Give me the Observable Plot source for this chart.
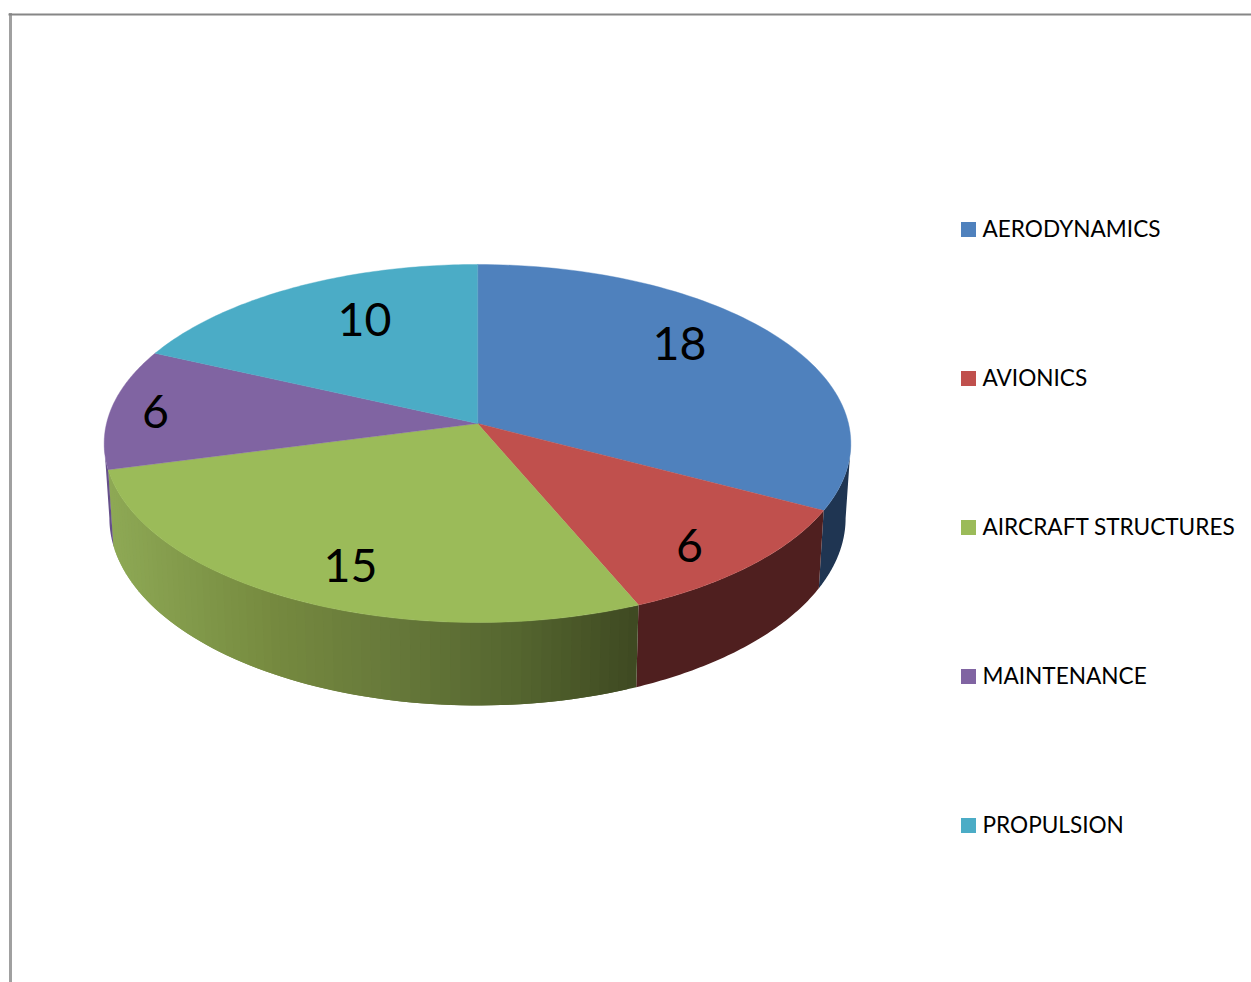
<!DOCTYPE html>
<html>
<head>
<meta charset="utf-8">
<script src="https://cdn.jsdelivr.net/npm/d3@7"></script>
<script src="https://cdn.jsdelivr.net/npm/@observablehq/plot@0.6"></script>
<style>
html,body{margin:0;padding:0;background:#fff;overflow:hidden}
svg{display:block}
</style>
</head>
<body>
<div id="chart"></div>
<script>
// ---- Data ----
const categories = ["AERODYNAMICS", "AVIONICS", "AIRCRAFT STRUCTURES", "MAINTENANCE", "PROPULSION"];
const values = [18, 6, 15, 6, 10];

// ---- Styles ----
const topColors = ["#4f81bd", "#c0504d", "#9bbb59", "#8064a2", "#4bacc6"];
const wallColors = ["#1f3552", "#4f1f1f", null, "#654f8a", "#2a6a7c"];
const greenWallStops = [[108, "#8ea955"], [280, "#75893f"], [400, "#66783a"], [520, "#55662f"], [637, "#3f4a22"]];
const labelPlaces = [[679, 345], [689, 547], [350, 567], [155, 413], [364, 321]];

// ---- Layout: perspective view of the disc ----
const cx = 477, cy = 423, halfW = 371, halfH = 176.8, tilt = 0.1117, depth = 73.7, shrink = 0.986;
const total = d3.sum(values);
const rim = (turn, drop = 0) => {
  const u = Math.sin(turn), v = -Math.cos(turn), w = 1 - tilt * v;
  return {x: cx + (drop ? shrink : 1) * halfW * u / w, y: cy + (halfH * v + drop) / w};
};
const edges = d3.cumsum(values).map((c) => c / total * 2 * Math.PI);
const spans = values.map((_, i) => [i ? edges[i - 1] : 0, edges[i]]);
const steps = (a, b, n) => d3.range(n + 1).map((k) => a + (b - a) * k / n);

// Only the part of the rim that faces the viewer has a visible wall
const wallFrom = Math.acos(-tilt), wallTo = 2 * Math.PI - wallFrom;
const greenColor = d3.scaleLinear().domain(greenWallStops.map((d) => d[0])).range(greenWallStops.map((d) => d[1])).clamp(true);
const walls = [];
spans.forEach(([s0, s1], i) => {
  const a = Math.max(s0, wallFrom), b = Math.min(s1, wallTo);
  if (a >= b) return;
  if (wallColors[i]) {
    const ts = steps(a, b, 60);
    [...ts.map((t) => rim(t)), ...ts.slice().reverse().map((t) => rim(t, depth))]
      .forEach((p) => walls.push({id: `w${i}`, color: wallColors[i], ...p}));
  } else {
    // shaded wall: overlapping bands, painted right to left
    const ts = steps(a, b, 70);
    ts.slice(0, -1).forEach((t0, k) => {
      const t1 = ts[Math.min(k + 2, ts.length - 1)];
      const color = greenColor(rim(t0).x);
      [[t0, 0], [t1, 0], [t1, depth], [t0, depth]].forEach(([t, d]) => walls.push({id: `w${i}-${k}`, color, ...rim(t, d)}));
    });
  }
});
const tops = [];
spans.forEach(([a, b], i) => {
  tops.push({id: i, color: topColors[i], x: cx, y: cy});
  steps(a, b, 80).forEach((t) => tops.push({id: i, color: topColors[i], ...rim(t)}));
});
const labels = values.map((v, i) => ({v, x: labelPlaces[i][0], y: labelPlaces[i][1]}));
const legendRows = categories.map((name, i) => ({name, color: topColors[i], y: 229 + i * 149}));

const chart = Plot.plot({
  width: 1251, height: 982, margin: 0,
  x: {domain: [0, 1251], range: [0, 1251], axis: null},
  y: {domain: [0, 982], range: [0, 982], axis: null},
  color: {type: "identity"},
  style: {fontFamily: "Lato, 'Open Sans', sans-serif", background: "#fff"},
  marks: [
    Plot.ruleX([10], {y1: 13, y2: 982, stroke: "#a0a0a0", strokeWidth: 3}),
    Plot.ruleY([14], {x1: 8.5, x2: 1251, stroke: "#868686", strokeWidth: 2}),
    Plot.line(walls, {x: "x", y: "y", z: "id", fill: "color", stroke: "none", curve: "linear-closed"}),
    Plot.line(tops, {x: "x", y: "y", z: "id", fill: "color", stroke: "color", strokeWidth: 0.4, curve: "linear-closed"}),
    Plot.text(labels, {x: "x", y: "y", text: "v", fontSize: 46.5, fill: "#000"}),
    Plot.rect(legendRows, {x1: () => 961, x2: () => 976, y1: (d) => d.y - 7, y2: (d) => d.y + 8, fill: "color"}),
    Plot.text(legendRows, {x: () => 982, y: "y", text: "name", textAnchor: "start", fontSize: 22.6, fill: "#000"})
  ]
});
document.getElementById("chart").append(chart);
</script>
</body>
</html>
